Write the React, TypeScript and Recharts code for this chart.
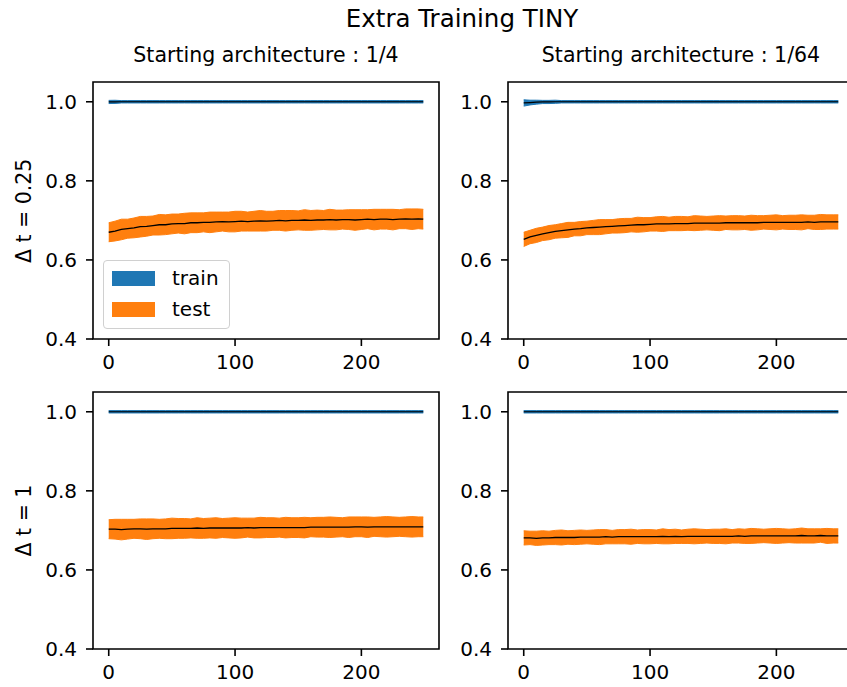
import React from "react";
import {
  ComposedChart,
  Area,
  Line,
  XAxis,
  YAxis,
  ReferenceArea,
  Legend,
} from "recharts";

// ---------------- data ----------------
const EPOCHS = [
  0, 5, 10, 15, 20, 25, 30, 35, 40, 45,
  50, 55, 60, 65, 70, 75, 80, 85, 90, 95,
  100, 105, 110, 115, 120, 125, 130, 135, 140, 145,
  150, 155, 160, 165, 170, 175, 180, 185, 190, 195,
  200, 205, 210, 215, 220, 225, 230, 235, 240, 245,
  249,
];

const X_TICKS = [0, 100, 200];
const Y_TICKS = [0.4, 0.6, 0.8, 1.0];
const SUPTITLE = "Extra Training TINY";
const COL_TITLES = ["Starting architecture : 1/4", "Starting architecture : 1/64"];
const ROW_TITLES = ["Δ t = 0.25", "Δ t = 1"];
const SERIES_NAMES = ["train", "test"];
const SERIES_COLORS = ["#1f77b4", "#ff7f0e"];

// Δt = 0.25, 1/4
const TL_TRAIN_MEAN = [
  0.9995, 0.9998, 1.0, 1.0, 1.0, 1.0, 1.0, 1.0, 1.0, 1.0,
  1.0, 1.0, 1.0, 1.0, 1.0, 1.0, 1.0, 1.0, 1.0, 1.0,
  1.0, 1.0, 1.0, 1.0, 1.0, 1.0, 1.0, 1.0, 1.0, 1.0,
  1.0, 1.0, 1.0, 1.0, 1.0, 1.0, 1.0, 1.0, 1.0, 1.0,
  1.0, 1.0, 1.0, 1.0, 1.0, 1.0, 1.0, 1.0, 1.0, 1.0,
  1.0,
];
const TL_TRAIN_STD = [
  0.004, 0.004, 0.003, 0.003, 0.003, 0.003, 0.003, 0.003, 0.003, 0.003,
  0.003, 0.003, 0.003, 0.003, 0.003, 0.003, 0.003, 0.003, 0.003, 0.003,
  0.003, 0.003, 0.003, 0.003, 0.003, 0.003, 0.003, 0.003, 0.003, 0.003,
  0.003, 0.003, 0.003, 0.003, 0.003, 0.003, 0.003, 0.003, 0.003, 0.003,
  0.003, 0.003, 0.003, 0.003, 0.003, 0.003, 0.003, 0.003, 0.003, 0.003,
  0.003,
];
const TL_TEST_MEAN = [
  0.670, 0.673, 0.677, 0.679, 0.681, 0.684, 0.685, 0.687, 0.689, 0.689,
  0.691, 0.692, 0.692, 0.694, 0.694, 0.695, 0.695, 0.696, 0.697, 0.696,
  0.697, 0.698, 0.697, 0.698, 0.699, 0.698, 0.699, 0.700, 0.699, 0.700,
  0.700, 0.701, 0.700, 0.701, 0.701, 0.702, 0.701, 0.702, 0.702, 0.701,
  0.702, 0.703, 0.702, 0.703, 0.703, 0.702, 0.703, 0.704, 0.703, 0.704,
  0.703,
];
const TL_TEST_STD = [
  0.024, 0.025, 0.026, 0.024, 0.025, 0.026, 0.025, 0.024, 0.026, 0.025,
  0.025, 0.024, 0.026, 0.025, 0.025, 0.024, 0.026, 0.025, 0.024, 0.025,
  0.026, 0.025, 0.024, 0.025, 0.026, 0.025, 0.024, 0.025, 0.026, 0.025,
  0.024, 0.026, 0.025, 0.025, 0.024, 0.026, 0.025, 0.024, 0.025, 0.026,
  0.025, 0.024, 0.026, 0.025, 0.025, 0.026, 0.024, 0.025, 0.026, 0.025,
  0.025,
];

// Δt = 0.25, 1/64
const TR_TRAIN_MEAN = [
  0.997, 0.998, 0.999, 0.9995, 0.9995, 1.0, 1.0, 1.0, 1.0, 1.0,
  1.0, 1.0, 1.0, 1.0, 1.0, 1.0, 1.0, 1.0, 1.0, 1.0,
  1.0, 1.0, 1.0, 1.0, 1.0, 1.0, 1.0, 1.0, 1.0, 1.0,
  1.0, 1.0, 1.0, 1.0, 1.0, 1.0, 1.0, 1.0, 1.0, 1.0,
  1.0, 1.0, 1.0, 1.0, 1.0, 1.0, 1.0, 1.0, 1.0, 1.0,
  1.0,
];
const TR_TRAIN_STD = [
  0.008, 0.006, 0.005, 0.004, 0.004, 0.004, 0.003, 0.003, 0.003, 0.003,
  0.003, 0.003, 0.003, 0.003, 0.003, 0.003, 0.003, 0.003, 0.003, 0.003,
  0.003, 0.003, 0.003, 0.003, 0.003, 0.003, 0.003, 0.003, 0.003, 0.003,
  0.003, 0.003, 0.003, 0.003, 0.003, 0.003, 0.003, 0.003, 0.003, 0.003,
  0.003, 0.003, 0.003, 0.003, 0.003, 0.003, 0.003, 0.003, 0.003, 0.003,
  0.003,
];
const TR_TEST_MEAN = [
  0.652, 0.658, 0.662, 0.666, 0.669, 0.672, 0.674, 0.676, 0.678, 0.679,
  0.681, 0.682, 0.683, 0.684, 0.685, 0.686, 0.687, 0.688, 0.689, 0.689,
  0.690, 0.691, 0.691, 0.691, 0.692, 0.692, 0.692, 0.693, 0.693, 0.693,
  0.693, 0.693, 0.694, 0.694, 0.694, 0.694, 0.694, 0.694, 0.695, 0.695,
  0.695, 0.695, 0.695, 0.695, 0.695, 0.696, 0.695, 0.696, 0.696, 0.696,
  0.696,
];
const TR_TEST_STD = [
  0.018, 0.017, 0.018, 0.017, 0.018, 0.017, 0.018, 0.019, 0.017, 0.018,
  0.017, 0.018, 0.019, 0.018, 0.017, 0.018, 0.018, 0.017, 0.019, 0.018,
  0.017, 0.018, 0.019, 0.017, 0.018, 0.018, 0.017, 0.019, 0.018, 0.017,
  0.018, 0.019, 0.017, 0.018, 0.018, 0.017, 0.019, 0.018, 0.017, 0.018,
  0.019, 0.017, 0.018, 0.018, 0.019, 0.017, 0.018, 0.019, 0.018, 0.018,
  0.018,
];

// Δt = 1, 1/4
const BL_TRAIN_MEAN = [
  1.0, 1.0, 1.0, 1.0, 1.0, 1.0, 1.0, 1.0, 1.0, 1.0,
  1.0, 1.0, 1.0, 1.0, 1.0, 1.0, 1.0, 1.0, 1.0, 1.0,
  1.0, 1.0, 1.0, 1.0, 1.0, 1.0, 1.0, 1.0, 1.0, 1.0,
  1.0, 1.0, 1.0, 1.0, 1.0, 1.0, 1.0, 1.0, 1.0, 1.0,
  1.0, 1.0, 1.0, 1.0, 1.0, 1.0, 1.0, 1.0, 1.0, 1.0,
  1.0,
];
const BL_TRAIN_STD = [
  0.003, 0.003, 0.003, 0.003, 0.003, 0.003, 0.003, 0.003, 0.003, 0.003,
  0.003, 0.003, 0.003, 0.003, 0.003, 0.003, 0.003, 0.003, 0.003, 0.003,
  0.003, 0.003, 0.003, 0.003, 0.003, 0.003, 0.003, 0.003, 0.003, 0.003,
  0.003, 0.003, 0.003, 0.003, 0.003, 0.003, 0.003, 0.003, 0.003, 0.003,
  0.003, 0.003, 0.003, 0.003, 0.003, 0.003, 0.003, 0.003, 0.003, 0.003,
  0.003,
];
const BL_TEST_MEAN = [
  0.703, 0.703, 0.702, 0.703, 0.704, 0.704, 0.703, 0.704, 0.704, 0.704,
  0.705, 0.705, 0.705, 0.705, 0.706, 0.705, 0.706, 0.706, 0.706, 0.706,
  0.706, 0.706, 0.707, 0.706, 0.707, 0.707, 0.707, 0.707, 0.707, 0.707,
  0.707, 0.707, 0.708, 0.708, 0.708, 0.708, 0.708, 0.708, 0.708, 0.709,
  0.709, 0.708, 0.709, 0.709, 0.709, 0.709, 0.709, 0.709, 0.709, 0.709,
  0.709,
];
const BL_TEST_STD = [
  0.024, 0.025, 0.026, 0.025, 0.024, 0.025, 0.026, 0.025, 0.024, 0.025,
  0.026, 0.025, 0.025, 0.024, 0.026, 0.025, 0.025, 0.026, 0.024, 0.025,
  0.026, 0.025, 0.024, 0.025, 0.026, 0.025, 0.025, 0.024, 0.026, 0.025,
  0.025, 0.026, 0.024, 0.025, 0.025, 0.026, 0.025, 0.024, 0.026, 0.025,
  0.025, 0.026, 0.024, 0.025, 0.026, 0.025, 0.024, 0.025, 0.026, 0.025,
  0.025,
];

// Δt = 1, 1/64
const BR_TRAIN_MEAN = [
  1.0, 1.0, 1.0, 1.0, 1.0, 1.0, 1.0, 1.0, 1.0, 1.0,
  1.0, 1.0, 1.0, 1.0, 1.0, 1.0, 1.0, 1.0, 1.0, 1.0,
  1.0, 1.0, 1.0, 1.0, 1.0, 1.0, 1.0, 1.0, 1.0, 1.0,
  1.0, 1.0, 1.0, 1.0, 1.0, 1.0, 1.0, 1.0, 1.0, 1.0,
  1.0, 1.0, 1.0, 1.0, 1.0, 1.0, 1.0, 1.0, 1.0, 1.0,
  1.0,
];
const BR_TRAIN_STD = [
  0.003, 0.003, 0.003, 0.003, 0.003, 0.003, 0.003, 0.003, 0.003, 0.003,
  0.003, 0.003, 0.003, 0.003, 0.003, 0.003, 0.003, 0.003, 0.003, 0.003,
  0.003, 0.003, 0.003, 0.003, 0.003, 0.003, 0.003, 0.003, 0.003, 0.003,
  0.003, 0.003, 0.003, 0.003, 0.003, 0.003, 0.003, 0.003, 0.003, 0.003,
  0.003, 0.003, 0.003, 0.003, 0.003, 0.003, 0.003, 0.003, 0.003, 0.003,
  0.003,
];
const BR_TEST_MEAN = [
  0.681, 0.681, 0.680, 0.681, 0.681, 0.682, 0.682, 0.682, 0.682, 0.683,
  0.683, 0.683, 0.683, 0.684, 0.683, 0.684, 0.684, 0.684, 0.684, 0.684,
  0.684, 0.684, 0.685, 0.684, 0.685, 0.684, 0.685, 0.685, 0.685, 0.685,
  0.685, 0.685, 0.685, 0.685, 0.686, 0.685, 0.686, 0.686, 0.686, 0.686,
  0.686, 0.686, 0.686, 0.686, 0.687, 0.686, 0.686, 0.687, 0.686, 0.686,
  0.686,
];
const BR_TEST_STD = [
  0.018, 0.017, 0.018, 0.018, 0.017, 0.018, 0.019, 0.017, 0.018, 0.018,
  0.017, 0.018, 0.019, 0.018, 0.017, 0.018, 0.018, 0.019, 0.017, 0.018,
  0.018, 0.017, 0.019, 0.018, 0.018, 0.017, 0.018, 0.019, 0.018, 0.017,
  0.018, 0.018, 0.019, 0.017, 0.018, 0.018, 0.019, 0.018, 0.017, 0.018,
  0.019, 0.018, 0.017, 0.018, 0.019, 0.018, 0.018, 0.017, 0.019, 0.018,
  0.018,
];

// ---------------- layout ----------------
const FONT = "'DejaVu Sans', sans-serif";
const X_DOMAIN: [number, number] = [-12.45, 261.45];
const Y_DOMAIN: [number, number] = [0.4, 1.05];
const PLOT_W = 346;
const PLOT_H = 257;
const Y_AXIS_W = 60;
const X_AXIS_H = 45;
const M_TOP = 10;
const M_RIGHT = 10;
const CHART_W = Y_AXIS_W + PLOT_W + M_RIGHT;
const CHART_H = M_TOP + PLOT_H + X_AXIS_H;

function buildRows(trainMean: number[], trainStd: number[], testMean: number[], testStd: number[]) {
  return EPOCHS.map((e, i) => ({
    epoch: e,
    trainBand: [trainMean[i] - trainStd[i], trainMean[i] + trainStd[i]],
    trainMean: trainMean[i],
    testBand: [testMean[i] - testStd[i], testMean[i] + testStd[i]],
    testMean: testMean[i],
  }));
}

const LegendBox = () => (
  <div
    style={{
      width: 127,
      height: 69,
      boxSizing: "border-box",
      border: "1.2px solid #d0d0d0",
      borderRadius: 4,
      background: "rgba(255,255,255,0.8)",
      position: "relative",
      fontFamily: FONT,
      fontSize: 20,
      color: "#000",
    }}
  >
    {SERIES_NAMES.map((name, i) => (
      <div
        key={name}
        style={{ position: "absolute", left: 8, top: 9 + i * 31, display: "flex", alignItems: "center", height: 17 }}
      >
        <div style={{ width: 43, height: 15, background: SERIES_COLORS[i] }} />
        <span style={{ marginLeft: 17, lineHeight: "17px" }}>{name}</span>
      </div>
    ))}
  </div>
);

type PanelProps = {
  left: number;
  top: number;
  trainMean: number[];
  trainStd: number[];
  testMean: number[];
  testStd: number[];
  showLegend?: boolean;
};

const Panel = ({ left, top, trainMean, trainStd, testMean, testStd, showLegend }: PanelProps) => {
  const rows = buildRows(trainMean, trainStd, testMean, testStd);
  const tickStyle = { fill: "#000", fontSize: 20, fontFamily: FONT };
  return (
    <div style={{ position: "absolute", left, top, width: CHART_W, height: CHART_H }}>
      <ComposedChart
        width={CHART_W}
        height={CHART_H}
        data={rows}
        margin={{ top: M_TOP, right: M_RIGHT, bottom: 0, left: 0 }}
      >
        <XAxis
          dataKey="epoch"
          type="number"
          domain={X_DOMAIN}
          ticks={X_TICKS}
          allowDataOverflow
          height={X_AXIS_H}
          axisLine={false}
          tickSize={7}
          tickMargin={9}
          tickLine={{ stroke: "#000", strokeWidth: 1.6 }}
          tick={tickStyle}
        />
        <YAxis
          type="number"
          domain={Y_DOMAIN}
          ticks={Y_TICKS}
          allowDataOverflow
          width={Y_AXIS_W}
          axisLine={false}
          tickSize={7}
          tickMargin={9}
          tickLine={{ stroke: "#000", strokeWidth: 1.6 }}
          tick={tickStyle}
          tickFormatter={(v: number) => v.toFixed(1)}
        />
        <Area
          dataKey="trainBand"
          name={SERIES_NAMES[0]}
          type="linear"
          fill={SERIES_COLORS[0]}
          fillOpacity={1}
          stroke={SERIES_COLORS[0]}
          strokeWidth={1}
          dot={false}
          activeDot={false}
          isAnimationActive={false}
        />
        <Line
          dataKey="trainMean"
          type="linear"
          stroke="#000"
          strokeWidth={1.2}
          dot={false}
          activeDot={false}
          legendType="none"
          isAnimationActive={false}
        />
        <Area
          dataKey="testBand"
          name={SERIES_NAMES[1]}
          type="linear"
          fill={SERIES_COLORS[1]}
          fillOpacity={1}
          stroke={SERIES_COLORS[1]}
          strokeWidth={1}
          dot={false}
          activeDot={false}
          isAnimationActive={false}
        />
        <Line
          dataKey="testMean"
          type="linear"
          stroke="#000"
          strokeWidth={1.3}
          dot={false}
          activeDot={false}
          legendType="none"
          isAnimationActive={false}
        />
        <ReferenceArea
          x1={X_DOMAIN[0]}
          x2={X_DOMAIN[1]}
          y1={Y_DOMAIN[0]}
          y2={Y_DOMAIN[1]}
          fill="none"
          fillOpacity={0}
          stroke="#000"
          strokeWidth={1.6}
          ifOverflow="visible"
        />
        {showLegend && (
          <Legend
            layout="vertical"
            align="center"
            verticalAlign="middle"
            content={() => <LegendBox />}
            wrapperStyle={{ left: 70, top: 188, width: 127, height: 69 }}
          />
        )}
      </ComposedChart>
    </div>
  );
};

const PANEL_LEFTS = [93, 508];
const PANEL_TOPS = [82.3, 392];

export default function App() {
  return (
    <div
      style={{
        position: "absolute",
        left: 0,
        top: 0,
        width: 847,
        height: 687,
        overflow: "hidden",
        background: "#fff",
        fontFamily: FONT,
      }}
    >
      <svg width={847} height={687} style={{ position: "absolute", left: 0, top: 0 }}>
        <text x={462} y={26.7} textAnchor="middle" fontSize={24.5} fontFamily={FONT} fill="#000">
          {SUPTITLE}
        </text>
        {COL_TITLES.map((t, i) => (
          <text
            key={t}
            x={PANEL_LEFTS[i] + PLOT_W / 2}
            y={62}
            textAnchor="middle"
            fontSize={20.5}
            fontFamily={FONT}
            fill="#000"
          >
            {t}
          </text>
        ))}
        {ROW_TITLES.map((t, i) => {
          const cy = PANEL_TOPS[i] + PLOT_H / 2;
          return (
            <text
              key={t}
              x={31}
              y={cy}
              transform={`rotate(-90, 31, ${cy})`}
              textAnchor="middle"
              fontSize={20.5}
              fontFamily={FONT}
              fill="#000"
            >
              {t}
            </text>
          );
        })}
      </svg>
      <Panel
        left={PANEL_LEFTS[0] - Y_AXIS_W}
        top={PANEL_TOPS[0] - M_TOP}
        trainMean={TL_TRAIN_MEAN}
        trainStd={TL_TRAIN_STD}
        testMean={TL_TEST_MEAN}
        testStd={TL_TEST_STD}
        showLegend
      />
      <Panel
        left={PANEL_LEFTS[1] - Y_AXIS_W}
        top={PANEL_TOPS[0] - M_TOP}
        trainMean={TR_TRAIN_MEAN}
        trainStd={TR_TRAIN_STD}
        testMean={TR_TEST_MEAN}
        testStd={TR_TEST_STD}
      />
      <Panel
        left={PANEL_LEFTS[0] - Y_AXIS_W}
        top={PANEL_TOPS[1] - M_TOP}
        trainMean={BL_TRAIN_MEAN}
        trainStd={BL_TRAIN_STD}
        testMean={BL_TEST_MEAN}
        testStd={BL_TEST_STD}
      />
      <Panel
        left={PANEL_LEFTS[1] - Y_AXIS_W}
        top={PANEL_TOPS[1] - M_TOP}
        trainMean={BR_TRAIN_MEAN}
        trainStd={BR_TRAIN_STD}
        testMean={BR_TEST_MEAN}
        testStd={BR_TEST_STD}
      />
    </div>
  );
}
